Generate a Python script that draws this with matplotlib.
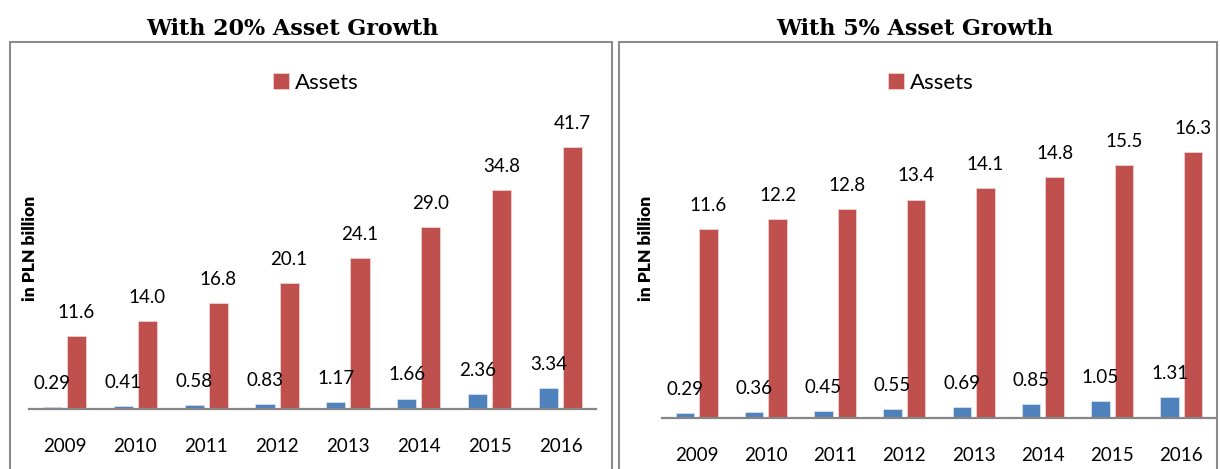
import numpy as np
import matplotlib.pyplot as plt
import matplotlib.patches as mpatches

years = ['2009', '2010', '2011', '2012', '2013', '2014', '2015', '2016']
# with 20% asset growth
assets_20 = [11.6, 14.0, 16.8, 20.1, 24.1, 29.0, 34.8, 41.7]
other_20 = [0.29, 0.41, 0.58, 0.83, 1.17, 1.66, 2.36, 3.34]
# with 5% asset growth
assets_5 = [11.6, 12.2, 12.8, 13.4, 14.1, 14.8, 15.5, 16.3]
other_5 = [0.29, 0.36, 0.45, 0.55, 0.69, 0.85, 1.05, 1.31]

blue = '#4F81BD'
red = '#C0504D'
W, H = 1220, 469

fig = plt.figure(figsize=(12.2, 4.69), dpi=100)

def px(x0, y0, x1, y1):
	# pixel box (top-left origin) -> figure fraction rect
	return [x0/W, 1 - y1/H, (x1 - x0)/W, (y1 - y0)/H]

def draw_panel(rect, ymax, assets, other, title, tx, legx, ylx):
	ax = fig.add_axes(rect)
	x = np.arange(len(years))
	b1 = ax.bar(x - 0.17, other, 0.27, color=blue, edgecolor='#dfe6f0', linewidth=0.5)
	b2 = ax.bar(x + 0.17, assets, 0.27, color=red, edgecolor='#efd9d8', linewidth=0.5)
	for i in range(len(x)):
		ax.annotate('%.2f' % other[i], (x[i] - 0.17, other[i]), xytext=(0, 17),
			textcoords='offset points', ha='center', va='center',
			fontsize=13.5, family='Lato')
		ax.annotate('%.1f' % assets[i], (x[i] + 0.17, assets[i]), xytext=(0, 17),
			textcoords='offset points', ha='center', va='center',
			fontsize=13.5, family='Lato')
	ax.set_xlim(-0.5, len(years) - 0.5)
	ax.set_ylim(0, ymax)
	ax.set_xticks(x)
	ax.set_xticklabels(years, fontsize=13.5, family='Lato')
	ax.tick_params(axis='x', length=0, pad=21)
	ax.set_yticks([])
	for s in ['left', 'right', 'top']:
		ax.spines[s].set_visible(False)
	ax.spines['bottom'].set_color('#868686')
	ax.spines['bottom'].set_linewidth(1.6)
	ax.patch.set_alpha(0)
	fig.text(tx/W, 1 - 29/H, title, ha='center', va='center',
		family='DejaVu Serif', weight='bold', fontsize=16)
	fig.text(ylx/W, 1 - 248/H, 'in PLN billion', rotation=90, ha='center', va='center',
		family='Lato', weight='heavy', fontsize=12.5)
	fig.legend(handles=[b2], labels=['Assets'], loc='center',
		bbox_to_anchor=(legx/W, 1 - 83/H), frameon=False,
		prop={'family': 'Lato', 'size': 16}, handlelength=0.7, handleheight=0.7,
		handletextpad=0.3)
	return ax

# frames around each panel
for x0, x1 in [(10, 612), (619, 1217)]:
	r = mpatches.Rectangle((x0/W, 1 - 480/H), (x1 - x0)/W, (480 - 42)/H,
		transform=fig.transFigure, fill=False, edgecolor='#8c8c8c', linewidth=1.5)
	fig.add_artist(r)

draw_panel(px(29, 409 - 50*6.28, 596, 409), 50, assets_20, other_20,
	'With 20% Asset Growth', 292, 316, 30)
draw_panel(px(662, 418 - 20*16.3, 1216, 418), 20, assets_5, other_5,
	'With 5% Asset Growth', 915, 931, 646)

plt.savefig('out.png', dpi=100)
